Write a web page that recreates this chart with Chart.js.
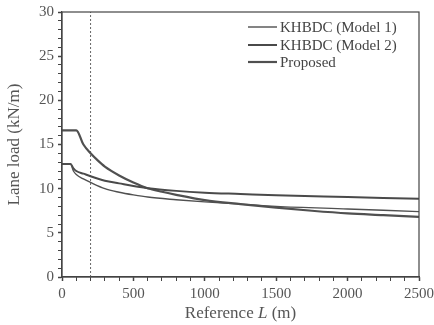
<!DOCTYPE html>
<html>
<head>
<meta charset="utf-8">
<script src="https://cdn.jsdelivr.net/npm/chart.js@4.4.1/dist/chart.umd.min.js"></script>
<style>
  html, body { margin: 0; padding: 0; background: #fff; }
  #wrap { width: 434px; height: 325px; }
</style>
</head>
<body>
<div id="wrap"><canvas id="laneChart" width="434" height="325"></canvas></div>
<script>
// values
const lengthsA = [0, 100, 150, 200, 250, 300, 400, 500, 600, 700, 800, 1000, 1250, 1500, 1750, 2000, 2250, 2500];
const proposed = [16.6, 16.6, 15.0, 14.0, 13.2, 12.5, 11.5, 10.7, 10.05, 9.65, 9.3, 8.7, 8.25, 7.85, 7.5, 7.2, 7.0, 6.8];

const lengthsB = [0, 60, 80, 100, 150, 200, 300, 400, 500, 600, 800, 1000, 1250, 1500, 2000, 2500];
const model2 = [12.8, 12.8, 12.3, 12.0, 11.7, 11.4, 10.9, 10.6, 10.3, 10.05, 9.75, 9.55, 9.4, 9.25, 9.05, 8.85];
const model1 = [12.8, 12.8, 12.0, 11.6, 11.1, 10.7, 10.0, 9.6, 9.3, 9.05, 8.75, 8.5, 8.25, 8.0, 7.7, 7.4];

const refLength = 200;
const seriesLabels = ['KHBDC (Model 1)', 'KHBDC (Model 2)', 'Proposed'];

const xTicks = { min: 0, max: 2500, major: 500, minor: 100 };
const yTicks = { min: 0, max: 30, major: 5, minor: 1 };

const serif = "'Liberation Serif', 'DejaVu Serif', serif";
const inkColor = '#555';

function toPoints(xs, ys) {
    return xs.map((x, i) => ({ x: x, y: ys[i] }));
}

// frame, legend and x-axis title drawn on top of the chart
const decorPlugin = {
    id: 'decor',
    afterDraw(chart) {
        const ctx = chart.ctx;
        const area = chart.chartArea;
        ctx.save();
        ctx.strokeStyle = '#444';
        ctx.lineWidth = 1.2;
        ctx.strokeRect(area.left, area.top, area.right - area.left, area.bottom - area.top);

        // legend
        const rows = [27, 45, 62];
        ctx.font = '15px ' + serif;
        ctx.textBaseline = 'middle';
        ctx.textAlign = 'left';
        chart.data.datasets.forEach((ds, i) => {
            if (i > 2) return;
            ctx.strokeStyle = ds.borderColor;
            ctx.lineWidth = ds.borderWidth;
            ctx.beginPath();
            ctx.moveTo(248, rows[i]);
            ctx.lineTo(277, rows[i]);
            ctx.stroke();
            ctx.fillStyle = '#444';
            ctx.fillText(ds.label, 280, rows[i] + 1);
        });

        // x title with italic L
        const parts = [
            { t: 'Reference ', f: '17px ' + serif },
            { t: 'L', f: 'italic 17px ' + serif },
            { t: ' (m)', f: '17px ' + serif }
        ];
        let total = 0;
        parts.forEach(p => { ctx.font = p.f; p.w = ctx.measureText(p.t).width; total += p.w; });
        let x = (area.left + area.right) / 2 - total / 2;
        ctx.fillStyle = inkColor;
        ctx.textBaseline = 'alphabetic';
        parts.forEach(p => { ctx.font = p.f; ctx.fillText(p.t, x, 318); x += p.w; });
        ctx.restore();
    }
};

const ctxLane = document.getElementById('laneChart').getContext('2d');

const lineStyle = {
    pointRadius: 0,
    cubicInterpolationMode: 'monotone'
};

new Chart(ctxLane, {
    type: 'line',
    data: {
        datasets: [{
            ...lineStyle,
            label: seriesLabels[0],
            data: toPoints(lengthsB, model1),
            borderColor: '#505050',
            borderWidth: 1.4
        }, {
            ...lineStyle,
            label: seriesLabels[1],
            data: toPoints(lengthsB, model2),
            borderColor: '#4a4a4a',
            borderWidth: 2
        }, {
            ...lineStyle,
            label: seriesLabels[2],
            data: toPoints(lengthsA, proposed),
            borderColor: '#505050',
            borderWidth: 2.2
        }, {
            label: 'ref',
            data: [{ x: refLength, y: yTicks.min }, { x: refLength, y: yTicks.max }],
            borderColor: '#666',
            borderWidth: 1,
            borderDash: [2, 2],
            pointRadius: 0
        }]
    },
    options: {
        responsive: false,
        animation: false,
        layout: { padding: { top: 12, right: 15, left: 0, bottom: 0 } },
        plugins: {
            legend: { display: false },
            tooltip: { enabled: false }
        },
        scales: {
            x: {
                type: 'linear',
                min: xTicks.min,
                max: xTicks.max,
                afterFit(scale) {
                    scale.height = 48;
                    scale.paddingLeft = 0;
                    scale.paddingRight = 0;
                },
                border: { display: true, color: '#444', width: 1.2 },
                grid: {
                    drawOnChartArea: false,
                    drawTicks: true,
                    tickLength: 4,
                    color: '#444',
                    tickWidth: c => (c.tick && c.tick.value % xTicks.major === 0 ? 1.5 : 1)
                },
                ticks: {
                    stepSize: xTicks.minor,
                    autoSkip: false,
                    maxRotation: 0,
                    padding: 4,
                    color: inkColor,
                    font: { family: serif, size: 15 },
                    callback: v => (v % xTicks.major === 0 ? String(v) : '')
                }
            },
            y: {
                min: yTicks.min,
                max: yTicks.max,
                afterFit(scale) {
                    scale.width = 62;
                    scale.paddingTop = 0;
                    scale.paddingBottom = 0;
                },
                border: { display: true, color: '#444', width: 1.2 },
                grid: {
                    drawOnChartArea: false,
                    drawTicks: true,
                    tickLength: 4,
                    color: '#444',
                    tickWidth: c => (c.tick && c.tick.value % yTicks.major === 0 ? 1.5 : 1)
                },
                ticks: {
                    stepSize: yTicks.minor,
                    autoSkip: false,
                    padding: 4,
                    color: inkColor,
                    font: { family: serif, size: 15 },
                    callback: v => (v % yTicks.major === 0 ? String(v) : '')
                },
                title: {
                    display: true,
                    text: 'Lane load (kN/m)',
                    color: inkColor,
                    font: { family: serif, size: 17 },
                    padding: { top: 4, bottom: 0 }
                }
            }
        }
    },
    plugins: [decorPlugin]
});
</script>
</body>
</html>
